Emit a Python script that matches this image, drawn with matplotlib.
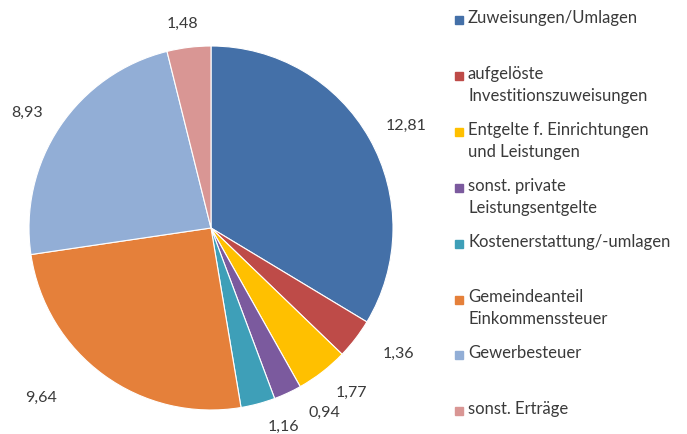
import matplotlib
matplotlib.use("Agg")
import numpy as np
import matplotlib.pyplot as plt
from matplotlib.patches import Rectangle

categories = ["Zuweisungen/Umlagen", "aufgelöste\nInvestitionszuweisungen",
              "Entgelte f. Einrichtungen\nund Leistungen", "sonst. private\nLeistungsentgelte",
              "Kostenerstattung/-umlagen", "Gemeindeanteil\nEinkommenssteuer",
              "Gewerbesteuer", "sonst. Erträge"]
values = [12.81, 1.36, 1.77, 0.94, 1.16, 9.64, 8.93, 1.48]
value_labels = ["12,81", "1,36", "1,77", "0,94", "1,16", "9,64", "8,93", "1,48"]
colors = ["#4470A8", "#BE4B48", "#FFC000", "#7B5A9E", "#3E9FB8", "#E5803A", "#92AED6", "#D99694"]

# label layout (distance factor, angular nudge in degrees) – mimic Excel "best fit"
label_dist = [1.21, 1.24, 1.19, 1.19, 1.165, 1.32, 1.19, 1.13]
label_nudge = [-1.8, 3.5, 2.8, 6.7, 5.0, -9.0, 1.7, 0.9]

plt.rcParams['font.family'] = ['Lato', 'DejaVu Sans']
txt_color = "#3a3a3a"

fig = plt.figure(figsize=(6.87, 4.34), dpi=100)
ax = fig.add_axes([29/687, 24/434, 364/687, 364/434])
wedges, _ = ax.pie(values, colors=colors, startangle=90, counterclock=False,
                   wedgeprops=dict(edgecolor="white", linewidth=0.8))
for w, lab, d, n in zip(wedges, value_labels, label_dist, label_nudge):
    ang = np.deg2rad((w.theta1 + w.theta2) / 2 + n)
    ax.text(d * np.cos(ang), d * np.sin(ang), lab, ha="center", va="center",
            fontsize=11.5, color=txt_color)
ax.set_xlim(-1, 1)
ax.set_ylim(-1, 1)
ax.set_aspect("equal")
ax.axis("off")

# legend drawn manually to mimic evenly spaced slots
x_sq = 455/687
x_txt = 468/687
y0 = 1 - 20/434
step = 55.9/434
sq_w = 8/687
sq_h = 8/434
for i, (lab, c) in enumerate(zip(categories, colors)):
    y = y0 - i*step
    fig.patches.append(Rectangle((x_sq, y - sq_h/2), sq_w, sq_h, color=c,
                                 transform=fig.transFigure, figure=fig))
    fig.text(x_txt, y + 10/434, lab, ha="left", va="top", fontsize=12,
             color=txt_color, linespacing=1.45)

fig.savefig("out.png", dpi=100)
